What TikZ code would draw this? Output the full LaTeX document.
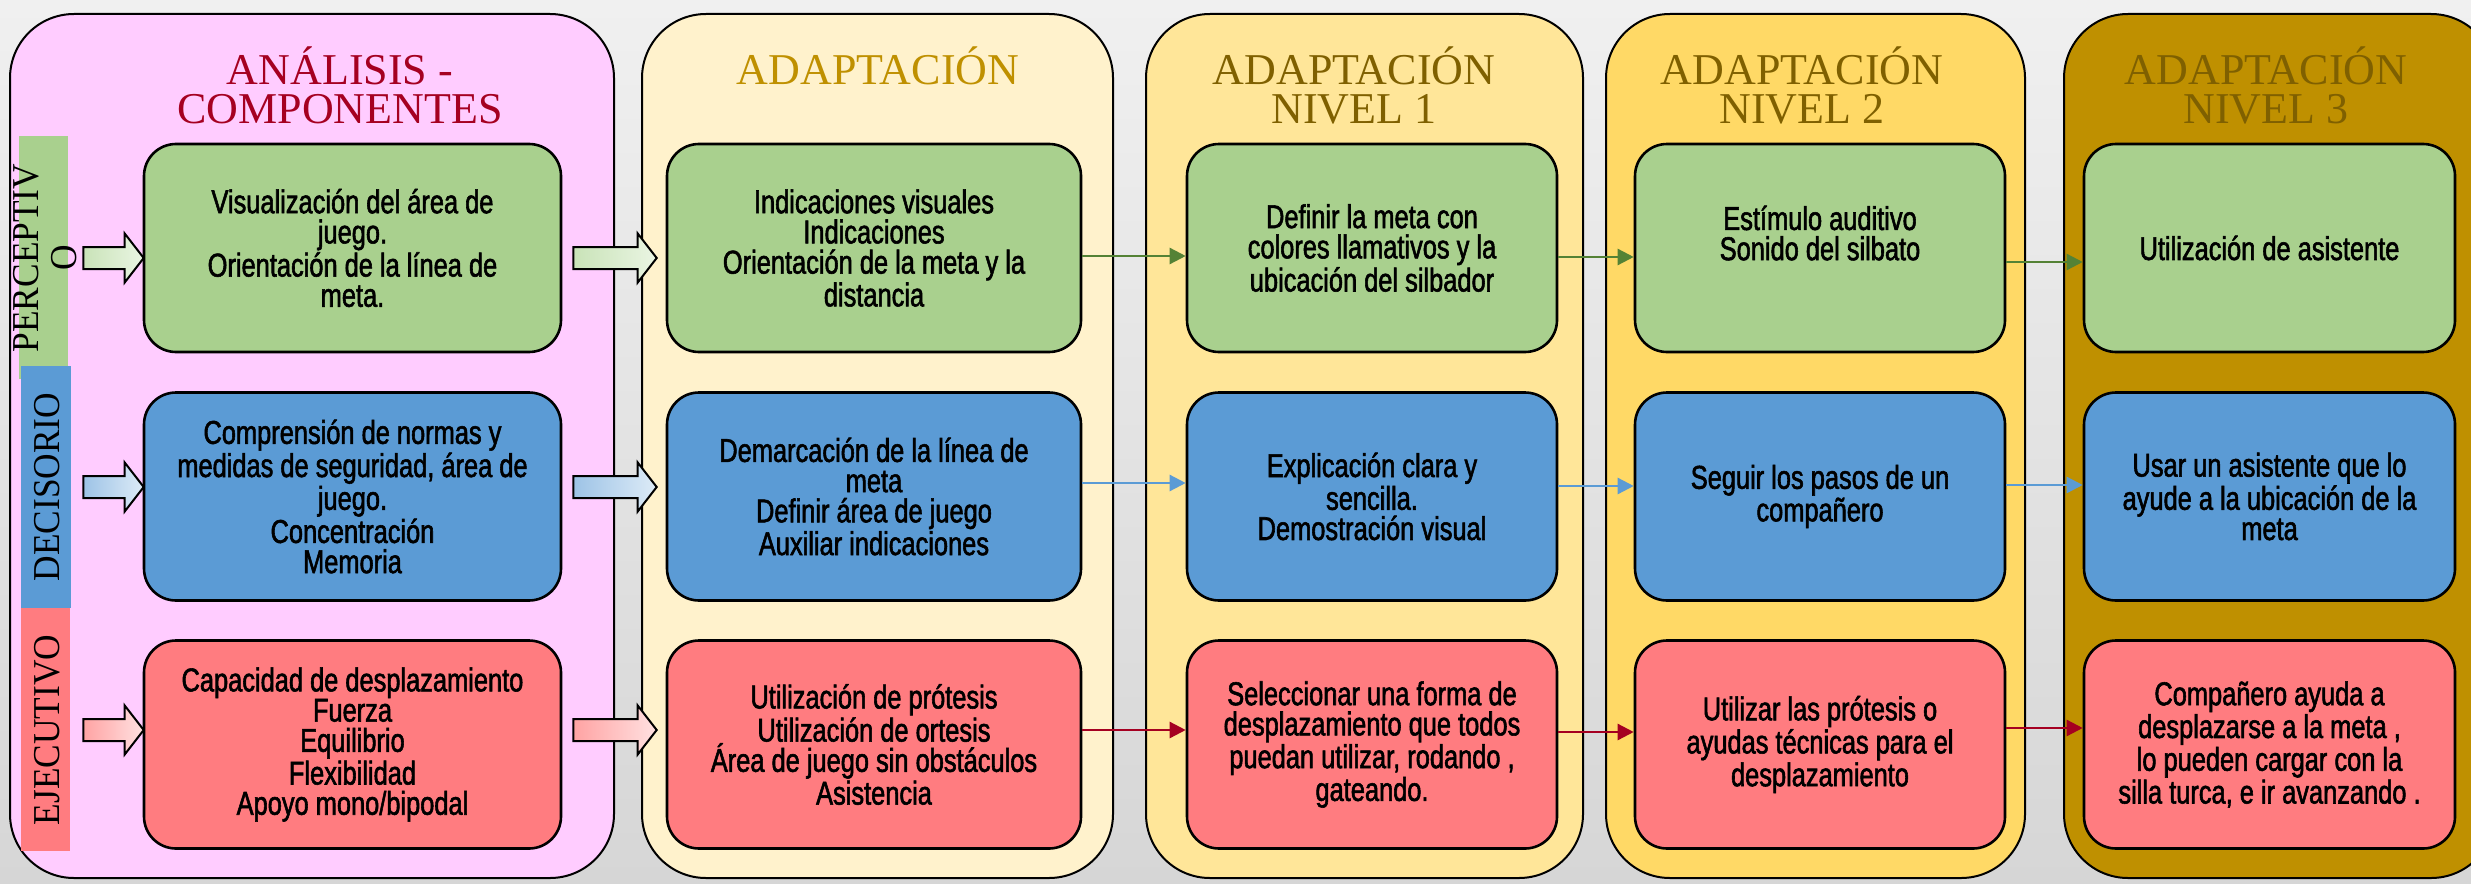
\documentclass[tikz,border=0pt]{standalone}
\usepackage{fontspec}
\setmainfont{Liberation Serif}
\newfontfamily\boxfont{Liberation Sans}[FakeStretch=0.77,FakeBold=1.7]
\newfontfamily\headfont{Liberation Serif}
\newfontfamily\sidefont{Liberation Serif}[FakeStretch=0.93]
\usetikzlibrary{arrows.meta,calc}
\definecolor{bgtop}{HTML}{F0F0F0}
\definecolor{bgbot}{HTML}{D6D6D6}
\definecolor{colA}{HTML}{FFCCFF}
\definecolor{colB}{HTML}{FFF2CC}
\definecolor{colC}{HTML}{FFE699}
\definecolor{colD}{HTML}{FFD966}
\definecolor{colE}{HTML}{BF9000}
\definecolor{headA}{HTML}{A50021}
\definecolor{headB}{HTML}{BF9000}
\definecolor{headC}{HTML}{7F6000}
\definecolor{grn}{HTML}{A9D08E}
\definecolor{blu}{HTML}{5B9BD5}
\definecolor{red}{HTML}{FF7C80}
\definecolor{grnline}{HTML}{548235}
\definecolor{bluline}{HTML}{5B9BD5}
\definecolor{redline}{HTML}{A50021}
\definecolor{grnL}{HTML}{C9E3B8}
\definecolor{grnR}{HTML}{EAF5E3}
\definecolor{bluL}{HTML}{9DC3E6}
\definecolor{bluR}{HTML}{DDEBF7}
\definecolor{redL}{HTML}{FFA3A3}
\definecolor{redR}{HTML}{FFE1E1}
\tikzset{
  colbox/.style={draw=black, line width=1pt, rounded corners=32pt, minimum height=432pt, inner sep=0pt},
  itembox/.style={draw=black, line width=1.3pt, rounded corners=16pt, minimum height=104pt, inner sep=2pt, align=center, font=\boxfont\fontsize{16.5}{15.1}\selectfont},
  head/.style={font=\headfont\fontsize{22}{19.5}\selectfont, align=center, anchor=north, inner sep=0pt},
  band/.style={inner sep=0pt, draw=none, minimum height=121.5pt},
  sidetext/.style={rotate=90, font=\sidefont\fontsize{19}{19}\selectfont, align=center, inner sep=0pt},
  link/.style={-{Triangle[length=8pt,width=8pt]}, line width=1.2pt},
  fat/.style={draw=black, line width=1pt},
}
\newcommand\fatarrow[4]{%
  \path[fat, left color=#3, right color=#4] let \p1=#1, \p2=#2 in
    (\x1,\y1+5.5pt) -- (\x2-9.5pt,\y1+5.5pt) -- (\x2-9.5pt,\y1+12.25pt) -- (\x2,\y1)
    -- (\x2-9.5pt,\y1-12.25pt) -- (\x2-9.5pt,\y1-5.5pt) -- (\x1,\y1-5.5pt) -- cycle;}
\begin{document}
\begin{tikzpicture}[x=0.5pt,y=-0.5pt]
\useasboundingbox (0,0) rectangle (2471,883);
\clip (0,0) rectangle (2471,883);
\shade[top color=bgtop, bottom color=bgbot] (0,0) rectangle (2471,883);

% columns
\node[colbox, fill=colA, minimum width=302pt] (col1) at (312,446) {};
\node[colbox, fill=colB, minimum width=235.5pt] (col2) at (877.5,446) {};
\node[colbox, fill=colC, minimum width=218.5pt] (col3) at (1364.5,446) {};
\node[colbox, fill=colD, minimum width=209.5pt] (col4) at (1815.5,446) {};
\node[colbox, fill=colE, minimum width=215.5pt] (col5) at (2279.5,446) {};

% headers
\node[head, text=headA] (h1) at (340,46) {ANÁLISIS -\\COMPONENTES};
\node[head, text=headB] (h2) at (878,46) {ADAPTACIÓN};
\node[head, text=headC] (h3) at (1354,46) {ADAPTACIÓN\\NIVEL 1};
\node[head, text=headC] (h4) at (1802,46) {ADAPTACIÓN\\NIVEL 2};
\node[head, text=headC] (h5) at (2266,46) {ADAPTACIÓN\\NIVEL 3};

% side bands
\node[band, fill=grn, minimum width=24.5pt] (bandP) at (43.5,257.5) {};
\node[band, fill=blu, minimum width=25pt, minimum height=121pt] (bandD) at (46,487) {};
\node[band, fill=red, minimum width=24.5pt] (bandE) at (45.5,729.5) {};
\node[sidetext] (tP) at (45,258) {PERCEPTIV\\O};
\node[sidetext] (tD) at (47,487) {DECISORIO};
\node[sidetext] (tE) at (47,730) {EJECUTIVO};

% boxes column 1
\node[itembox, fill=grn, minimum width=208.5pt] (b11) at (352.5,248) {Visualización del área de\\juego.\\Orientación de la línea de\\meta.};
\node[itembox, fill=blu, minimum width=208.5pt] (b12) at (352.5,496.5) {Comprensión de normas y\\medidas de seguridad, área de\\juego.\\Concentración\\Memoria};
\node[itembox, fill=red, minimum width=208.5pt] (b13) at (352.5,744.5) {Capacidad de desplazamiento\\Fuerza\\Equilibrio\\Flexibilidad\\Apoyo mono/bipodal};
% column 2
\node[itembox, fill=grn, minimum width=207pt] (b21) at (874,248) {Indicaciones visuales\\Indicaciones\\Orientación de la meta y la\\distancia};
\node[itembox, fill=blu, minimum width=207pt] (b22) at (874,496.5) {Demarcación de la línea de\\meta\\Definir área de juego\\Auxiliar indicaciones};
\node[itembox, fill=red, minimum width=207pt] (b23) at (874,744.5) {Utilización de prótesis\\Utilización de ortesis\\Área de juego sin obstáculos\\Asistencia};
% column 3
\node[itembox, fill=grn, minimum width=185pt] (b31) at (1372,248) {Definir la meta con\\colores llamativos y la\\ubicación del silbador};
\node[itembox, fill=blu, minimum width=185pt] (b32) at (1372,496.5) {Explicación clara y\\sencilla.\\Demostración visual};
\node[itembox, fill=red, minimum width=185pt] (b33) at (1372,744.5) {Seleccionar una forma de\\desplazamiento que todos\\puedan utilizar, rodando ,\\gateando.};
% column 4
\node[itembox, fill=grn, minimum width=185pt] (b41) at (1820,248) {Estímulo auditivo\\Sonido del silbato\\\mbox{}};
\node[itembox, fill=blu, minimum width=185pt] (b42) at (1820,496.5) {Seguir los pasos de un\\compañero};
\node[itembox, fill=red, minimum width=185pt] (b43) at (1820,744.5) {Utilizar las prótesis o\\ayudas técnicas para el\\desplazamiento};
% column 5
\node[itembox, fill=grn, minimum width=185.5pt] (b51) at (2269.5,248) {Utilización de asistente};
\node[itembox, fill=blu, minimum width=185.5pt] (b52) at (2269.5,496.5) {Usar un asistente que lo\\ayude a la ubicación de la\\meta};
\node[itembox, fill=red, minimum width=185.5pt] (b53) at (2269.5,744.5) {Compañero ayuda a\\desplazarse a la meta ,\\lo pueden cargar con la\\silla turca, e ir avanzando .};

% row levels for connectors
\coordinate (ya1) at (0,258);
\coordinate (ya2) at (0,487);
\coordinate (ya3) at (0,730);

% fat arrows
\fatarrow{($(bandP.east|-ya1)+(15,0)$)}{($(b11.west|-ya1)+(1,0)$)}{grnL}{grnR}
\fatarrow{($(bandD.east|-ya2)+(12,0)$)}{($(b12.west|-ya2)+(1,0)$)}{bluL}{bluR}
\fatarrow{($(bandE.east|-ya3)+(13,0)$)}{($(b13.west|-ya3)+(1,0)$)}{redL}{redR}
\fatarrow{($(b11.east|-ya1)+(11,0)$)}{($(b21.west|-ya1)+(-9,0)$)}{grnL}{grnR}
\fatarrow{($(b12.east|-ya2)+(11,0)$)}{($(b22.west|-ya2)+(-9,0)$)}{bluL}{bluR}
\fatarrow{($(b13.east|-ya3)+(11,0)$)}{($(b23.west|-ya3)+(-9,0)$)}{redL}{redR}

% thin arrows
\coordinate (r1a) at (0,256); \coordinate (r1b) at (0,257); \coordinate (r1c) at (0,262);
\coordinate (r2a) at (0,483); \coordinate (r2b) at (0,486); \coordinate (r2c) at (0,485);
\coordinate (r3a) at (0,730); \coordinate (r3b) at (0,732); \coordinate (r3c) at (0,728);
\draw[link, grnline] (b21.east|-r1a) -- (b31.west|-r1a);
\draw[link, grnline] (b31.east|-r1b) -- (b41.west|-r1b);
\draw[link, grnline] (b41.east|-r1c) -- (b51.west|-r1c);
\draw[link, bluline] (b22.east|-r2a) -- (b32.west|-r2a);
\draw[link, bluline] (b32.east|-r2b) -- (b42.west|-r2b);
\draw[link, bluline] (b42.east|-r2c) -- (b52.west|-r2c);
\draw[link, redline] (b23.east|-r3a) -- (b33.west|-r3a);
\draw[link, redline] (b33.east|-r3b) -- (b43.west|-r3b);
\draw[link, redline] (b43.east|-r3c) -- (b53.west|-r3c);
\end{tikzpicture}
\end{document}
